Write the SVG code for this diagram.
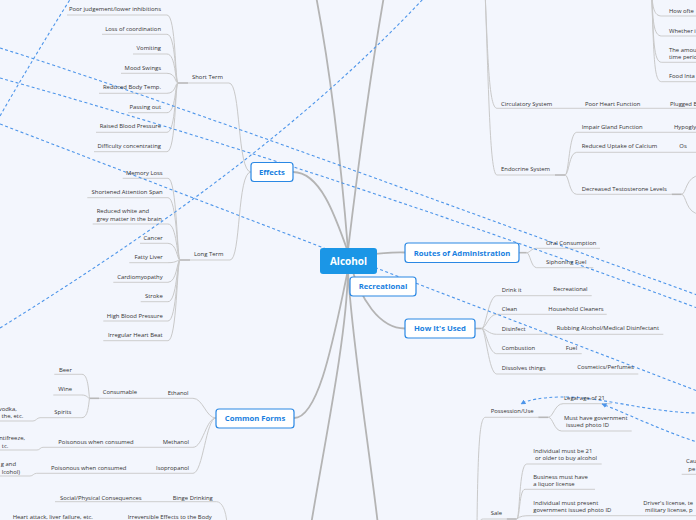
<svg xmlns="http://www.w3.org/2000/svg" width="696" height="520" viewBox="0 0 696 520">
<defs>
<style>
.t{font-family:"Open Sans","Liberation Sans",sans-serif;font-size:5.9px;fill:#333333}
.e{text-anchor:end}
.ul{stroke:#cdcdcd;stroke-width:1;fill:none}
.jn{stroke:#b8b8b8;stroke-width:1.6;fill:none}
.br{stroke:#c9c9c9;stroke-width:1;fill:none}
.mn{stroke:#b4b4b4;stroke-width:1.8;fill:none}
.rel{stroke:#4d95ea;stroke-width:1.1;stroke-dasharray:3 2.5;fill:none}
.box{fill:#ffffff;stroke:#2a88e4;stroke-width:1.2}
.bt{font-family:"Open Sans","Liberation Sans",sans-serif;font-size:7.7px;font-weight:bold;fill:#1a7fe0;text-anchor:middle}
</style>
<marker id="arr" markerWidth="5" markerHeight="5" refX="4.5" refY="2.5" orient="auto" markerUnits="userSpaceOnUse"><path d="M0,0 L5,2.5 L0,5 z" fill="#4d95ea"/></marker>
</defs>
<rect x="0" y="0" width="696" height="520" fill="#f3f6fd"/>
<g id="connectors">
<path class="mn" d="M348,250 Q336,100 316,-4"/>
<path class="mn" d="M348,250 Q366,100 384,-4"/>
<path class="mn" d="M348,252 C335,215 320,172 293,172"/>
<path class="mn" d="M360,256 Q385,252 405,252.5"/>
<path class="mn" d="M350,262 C360,300 380,328.5 405,328.5"/>
<path class="mn" d="M348,270 C335,330 320,418 294,418"/>
<path class="mn" d="M348,272 C346,340 325,440 311,525"/>
<path class="mn" d="M348,272 C352,340 368,440 378,525"/>
<path class="br" d="M229,83 C241,83 237,172 251,172"/>
<path class="br" d="M230,260 C241,260 237,172 251,172"/>
<path class="ul" d="M188,83 L229,83"/><path class="jn" d="M178,83 L188,83"/>
<path class="ul" d="M190,260 L230,260"/><path class="jn" d="M180,260 L190,260"/>
<path class="ul" d="M67,15 L167,15"/><path class="br" d="M167,15 C176,15 175,83 178,83"/>
<path class="ul" d="M102,34.3 L167,34.3"/><path class="br" d="M167,34.3 C176,34.3 175,83 178,83"/>
<path class="ul" d="M133,54 L167,54"/><path class="br" d="M167,54 C176,54 175,83 178,83"/>
<path class="ul" d="M121,73.3 L167,73.3"/><path class="br" d="M167,73.3 C176,73.3 175,83 178,83"/>
<path class="ul" d="M99,93.3 L167,93.3"/><path class="br" d="M167,93.3 C176,93.3 175,83 178,83"/>
<path class="ul" d="M128,112.7 L167,112.7"/><path class="br" d="M167,112.7 C176,112.7 175,83 178,83"/>
<path class="ul" d="M96,132.3 L167,132.3"/><path class="br" d="M167,132.3 C176,132.3 175,83 178,83"/>
<path class="ul" d="M94,151.7 L167,151.7"/><path class="br" d="M167,151.7 C176,151.7 175,83 178,83"/>
<path class="ul" d="M122.7,178.3 L168,178.3"/><path class="br" d="M168,178.3 C177,178.3 177,260 180,260"/>
<path class="ul" d="M87.3,197.7 L168,197.7"/><path class="br" d="M168,197.7 C177,197.7 177,260 180,260"/>
<path class="ul" d="M92.7,224 L168,224"/><path class="br" d="M168,224 C177,224 177,260 180,260"/>
<path class="ul" d="M140,243.3 L168,243.3"/><path class="br" d="M168,243.3 C177,243.3 177,260 180,260"/>
<path class="ul" d="M129.3,262.7 L168,262.7"/><path class="br" d="M168,262.7 C177,262.7 177,260 180,260"/>
<path class="ul" d="M113.3,282.3 L168,282.3"/><path class="br" d="M168,282.3 C177,282.3 177,260 180,260"/>
<path class="ul" d="M140.7,301.7 L168,301.7"/><path class="br" d="M168,301.7 C177,301.7 177,260 180,260"/>
<path class="ul" d="M103.3,321 L168,321"/><path class="br" d="M168,321 C177,321 177,260 180,260"/>
<path class="ul" d="M103.3,340.7 L168,340.7"/><path class="br" d="M168,340.7 C177,340.7 177,260 180,260"/>
<path class="br" d="M216,418 C206,418 203,398.3 193,398.3"/>
<path class="br" d="M216,418 C206,418 203,447.3 193,447.3"/>
<path class="br" d="M216,418 C206,418 203,473.3 193,473.3"/>
<path class="ul" d="M99,398.3 L193,398.3"/><path class="jn" d="M89.3,398.3 L99,398.3"/>
<path class="ul" d="M54.3,374.3 L82,374.3"/><path class="br" d="M82,374.3 C88,374.3 88.5,390 89.5,398.3"/>
<path class="ul" d="M53.3,395 L82,395"/><path class="br" d="M82,395 C87,395 88,398.3 89.5,398.3"/>
<path class="ul" d="M40,417.7 L82,417.7"/><path class="br" d="M82,417.7 C88,417.7 88.5,405 89.5,398.3"/>
<path class="ul" d="M-5,421 L33,421 C36,421 37,417.7 40,417.7"/>
<path class="ul" d="M43,447.3 L193,447.3"/>
<path class="ul" d="M-5,450 L37,450 C40,450 40,447.3 43,447.3"/>
<path class="ul" d="M36.7,473.3 L193,473.3"/>
<path class="ul" d="M-5,476 L30,476 C33,476 33.5,473.3 36.7,473.3"/>
<path class="ul" d="M55,501.7 L216.7,501.7 C222,502 226,510 227,524"/>
<path class="br" d="M651.5,-10 C652.5,8 654,16 661.7,16"/>
<path class="br" d="M651.5,-10 C653,20 653,36 661.7,36"/>
<path class="br" d="M651.5,-10 C653.5,40 653.5,62.3 661.7,62.3"/>
<path class="br" d="M651.5,-10 C654,60 654,81.7 661.7,81.7"/>
<path class="ul" d="M661.7,16 L700,16 M661.7,36 L700,36 M661.7,62.3 L700,62.3 M661.7,81.7 L700,81.7"/>
<path class="br" d="M485,-10 C488,60 489,108.3 497,108.3"/>
<path class="br" d="M485,-10 C489,100 490,175 497,175"/>
<path class="ul" d="M497,108.3 L700,108.3"/>
<path class="ul" d="M497,175 L555,175"/><path class="jn" d="M555,175 L565,175"/>
<path class="br" d="M565,175 C569,175 569,132.3 576.7,132.3"/>
<path class="br" d="M565,175 C569,175 569,152.3 576.7,152.3"/>
<path class="br" d="M565,175 C569,175 569,194.3 576.7,194.3"/>
<path class="ul" d="M576.7,132.3 L700,132.3 M576.7,152.3 L700,152.3 M576.7,194.3 L671.7,194.3"/>
<path class="jn" d="M671.7,194.3 L681.7,194.3"/>
<path class="br" d="M681.7,194.3 C686,194.3 686,175.7 700,175.5"/>
<path class="br" d="M681.7,194.3 C686,194.3 686,214 700,214"/>
<path class="jn" d="M518.7,252.7 L526.7,252.7"/>
<path class="br" d="M526.7,252.7 C530,252.7 531,248.3 536.7,248.3"/>
<path class="br" d="M526.7,252.7 C530,252.7 531,267.7 536.7,267.7"/>
<path class="ul" d="M536.7,248.3 L600,248.3 M536.7,267.7 L593.3,267.7"/>
<path class="jn" d="M474.7,328.5 L481.7,328.5"/>
<path class="br" d="M481.7,328.5 C485.7,328.5 488.7,295.7 496.7,295.7"/>
<path class="br" d="M481.7,328.5 C485.7,328.5 488.7,314.3 496.7,314.3"/>
<path class="br" d="M481.7,328.5 C485.7,328.5 488.7,334.3 496.7,334.3"/>
<path class="br" d="M481.7,328.5 C485.7,328.5 488.7,353.7 496.7,353.7"/>
<path class="br" d="M481.7,328.5 C485.7,328.5 488.7,374 496.7,374"/>
<path class="ul" d="M496.7,295.7 L591.7,295.7 M496.7,314.3 L606.7,314.3 M496.7,334.3 L663.3,334.3 M496.7,353.7 L581.7,353.7 M496.7,374 L638.3,374"/>
<path class="ul" d="M485,417.3 L538.3,417.3"/><path class="jn" d="M538.3,417.3 L548.3,417.3"/>
<path class="br" d="M485,417.3 C480,419 478,440 477,525"/>
<path class="br" d="M548.3,417.3 C553,417.3 555,403.7 563,403.7"/>
<path class="br" d="M548.3,417.3 C553,417.3 554,431 561.7,431"/>
<path class="ul" d="M563,403.7 L611.7,403.7 M561.7,431 L631.7,431"/>
<path class="ul" d="M483.3,519 L506.7,519"/><path class="jn" d="M506.7,519 L516.7,519"/>
<path class="br" d="M483.3,519 C480,519 479,522 478.5,526"/>
<path class="br" d="M516.7,519 C520,519 519,464 526.7,464"/>
<path class="br" d="M516.7,519 C520,519 519,489.3 525,489.3"/>
<path class="br" d="M516.7,519 C520,516 524,515.7 530,515.7"/>
<path class="ul" d="M526.7,464 L601.7,464 M525,489.3 L595,489.3 M530,515.7 L700,515.7 M681.7,474.3 L700,474.3"/>
</g>
<g id="relations">
<path class="rel" d="M0,116 Q35,55 71,-2"/>
<path class="rel" d="M0,48 C150,95 380,180 700,296"/>
<path class="rel" d="M0,78 C150,120 380,190 700,309"/>
<path class="rel" d="M0,124 L700,392"/>
<path class="rel" d="M0,328 C150,235 300,130 424,-2"/>
<path class="rel" d="M700,413 C650,413 600,396 560,397 C540,397.5 528,400 521,404" marker-end="url(#arr)"/>
<path class="rel" d="M700,443 C665,432 630,415 602,404" marker-end="url(#arr)"/>
</g>
<g id="nodes">
<g id="node-alcohol"><rect x="320" y="248" width="57" height="26" rx="3" fill="#1b96e6"/><text x="348.5" y="264.6" font-family="Open Sans, Liberation Sans, sans-serif" font-size="10" font-weight="bold" fill="#ffffff" text-anchor="middle">Alcohol</text></g>
<g id="node-effects"><rect class="box" x="251" y="162.5" width="42" height="19" rx="3"/><text class="bt" x="272" y="174.8">Effects</text></g>
<g id="node-routes"><rect class="box" x="405" y="243" width="114" height="19.5" rx="3"/><text class="bt" x="462" y="255.5">Routes of Administration</text></g>
<g id="node-recreational"><rect class="box" x="350" y="277" width="66" height="19" rx="3"/><text class="bt" x="383" y="289.3">Recreational</text></g>
<g id="node-howused"><rect class="box" x="405" y="319" width="70" height="19" rx="3"/><text class="bt" x="440" y="331.3">How It's Used</text></g>
<g id="node-commonforms"><rect class="box" x="216" y="409" width="78" height="19" rx="3"/><text class="bt" x="255" y="421.3">Common Forms</text></g>

<g id="node-shortterm"><text class="t" x="192" y="79.1">Short Term</text></g>
<g id="node-st1"><text class="t e" x="161" y="11.1">Poor judgement/lower inhibitions</text></g>
<g id="node-st2"><text class="t e" x="161" y="31.1">Loss of coordination</text></g>
<g id="node-st3"><text class="t e" x="161" y="49.8">Vomiting</text></g>
<g id="node-st4"><text class="t e" x="161" y="69.8">Mood Swings</text></g>
<g id="node-st5"><text class="t e" x="161" y="89.1">Reduced Body Temp.</text></g>
<g id="node-st6"><text class="t e" x="161" y="109.1">Passing out</text></g>
<g id="node-st7"><text class="t e" x="161" y="128.1">Raised Blood Pressure</text></g>
<g id="node-st8"><text class="t e" x="161" y="148.1">Difficulty concentrating</text></g>

<g id="node-longterm"><text class="t" x="194" y="256.1">Long Term</text></g>
<g id="node-lt1"><text class="t e" x="162.7" y="174.8">Memory Loss</text></g>
<g id="node-lt2"><text class="t e" x="162.7" y="193.8">Shortened Attention Span</text></g>
<g id="node-lt3"><text class="t" x="96.7" y="213.4">Reduced white and</text><text class="t" x="96.7" y="220.6">grey matter in the brain</text></g>
<g id="node-lt4"><text class="t e" x="162.7" y="239.8">Cancer</text></g>
<g id="node-lt5"><text class="t e" x="162.7" y="258.8">Fatty Liver</text></g>
<g id="node-lt6"><text class="t e" x="162.7" y="278.8">Cardiomyopathy</text></g>
<g id="node-lt7"><text class="t e" x="162.7" y="297.8">Stroke</text></g>
<g id="node-lt8"><text class="t e" x="162.7" y="317.8">High Blood Pressure</text></g>
<g id="node-lt9"><text class="t e" x="162.7" y="336.8">Irregular Heart Beat</text></g>

<g id="node-ethanol"><text class="t" x="167.7" y="394.8">Ethanol</text></g>
<g id="node-consumable"><text class="t" x="102.7" y="394.1">Consumable</text></g>
<g id="node-beer"><text class="t" x="59" y="372.1">Beer</text></g>
<g id="node-wine"><text class="t" x="58.3" y="391.1">Wine</text></g>
<g id="node-spirits"><text class="t" x="54.3" y="414.1">Spirits</text></g>
<g id="node-spirits-ex"><text class="t e" x="16.7" y="410.8">vodka,</text><text class="t e" x="23.3" y="418.4">the, etc.</text></g>
<g id="node-methanol"><text class="t" x="162.7" y="443.8">Methanol</text></g>
<g id="node-meth-p"><text class="t" x="58.3" y="443.8">Poisonous when consumed</text></g>
<g id="node-meth-ex"><text class="t e" x="25" y="440.2">ntifreeze,</text><text class="t e" x="8.3" y="447.8">tc.</text></g>
<g id="node-isopropanol"><text class="t" x="156" y="470.1">Isopropanol</text></g>
<g id="node-iso-p"><text class="t" x="51" y="470.1">Poisonous when consumed</text></g>
<g id="node-iso-ex"><text class="t e" x="16" y="466">g and</text><text class="t e" x="20" y="473.6">lcohol)</text></g>

<g id="node-binge"><text class="t" x="172.7" y="499.8">Binge Drinking</text></g>
<g id="node-social"><text class="t" x="60" y="499.8">Social/Physical Consequences</text></g>
<g id="node-irrev"><text class="t" x="127.7" y="519.4">Irreversible Effects to the Body</text></g>
<g id="node-heart"><text class="t" x="12.7" y="519.4">Heart attack, liver failure, etc.</text></g>

<g id="node-howoften"><text class="t" x="669" y="13.1">How ofte</text></g>
<g id="node-whether"><text class="t" x="669" y="33.1">Whether i</text></g>
<g id="node-amount"><text class="t" x="669" y="51.8">The amou</text><text class="t" x="669" y="59.2">time perio</text></g>
<g id="node-food"><text class="t" x="669" y="78.1">Food Inta</text></g>
<g id="node-circ"><text class="t" x="501" y="106.1">Circulatory System</text></g>
<g id="node-poorheart"><text class="t" x="585" y="106.1">Poor Heart Function</text></g>
<g id="node-plugged"><text class="t" x="670" y="106.1">Plugged B</text></g>
<g id="node-endo"><text class="t" x="501" y="171.1">Endocrine System</text></g>
<g id="node-impair"><text class="t" x="581.7" y="128.8">Impair Gland Function</text></g>
<g id="node-hypo"><text class="t" x="674" y="128.8">Hypogly</text></g>
<g id="node-calcium"><text class="t" x="581.7" y="148.1">Reduced Uptake of Calcium</text></g>
<g id="node-os"><text class="t" x="679.3" y="148.1">Os</text></g>
<g id="node-testo"><text class="t" x="581.7" y="191.1">Decreased Testosterone Levels</text></g>

<g id="node-oral"><text class="t" x="546" y="245.4">Oral Consumption</text></g>
<g id="node-siphon"><text class="t" x="546" y="264.4">Siphoning Fuel</text></g>

<g id="node-drink"><text class="t" x="501.7" y="292.1">Drink it</text></g>
<g id="node-recr2"><text class="t" x="553.3" y="291.1">Recreational</text></g>
<g id="node-clean"><text class="t" x="501.7" y="311.1">Clean</text></g>
<g id="node-household"><text class="t" x="548.3" y="311.1">Household Cleaners</text></g>
<g id="node-disinfect"><text class="t" x="501.7" y="331.1">Disinfect</text></g>
<g id="node-rubbing"><text class="t" x="556.7" y="330.1">Rubbing Alcohol/Medical Disinfectant</text></g>
<g id="node-combustion"><text class="t" x="501.7" y="350.1">Combustion</text></g>
<g id="node-fuel"><text class="t" x="565.7" y="350.1">Fuel</text></g>
<g id="node-dissolves"><text class="t" x="501.7" y="370.1">Dissolves things</text></g>
<g id="node-cosmetics"><text class="t" x="577.3" y="368.8">Cosmetics/Perfumes</text></g>

<g id="node-possession"><text class="t" x="490.7" y="413.1">Possession/Use</text></g>
<g id="node-legalage"><text class="t" x="564" y="399.8">Legal age of 21</text></g>
<g id="node-musthave"><text class="t" x="564" y="419.6">Must have government</text><text class="t" x="566" y="427.2">issued photo ID</text></g>
<g id="node-sale"><text class="t" x="490.7" y="514.8">Sale</text></g>
<g id="node-ind21"><text class="t" x="533.3" y="452.6">Individual must be 21</text><text class="t" x="535" y="460.2">or older to buy alcohol</text></g>
<g id="node-business"><text class="t" x="533.3" y="478.9">Business must have</text><text class="t" x="533.3" y="486.4">a liquor license</text></g>
<g id="node-indpresent"><text class="t" x="533.3" y="504.6">Individual must present</text><text class="t" x="533.3" y="512.2">government issued photo ID</text></g>
<g id="node-license"><text class="t" x="643.3" y="504.6">Driver's license, te</text><text class="t" x="645" y="512.2">military license, p</text></g>
<g id="node-cau"><text class="t" x="686" y="463.4">Cau</text><text class="t" x="688.3" y="471">pe</text></g>
</g>
</svg>
